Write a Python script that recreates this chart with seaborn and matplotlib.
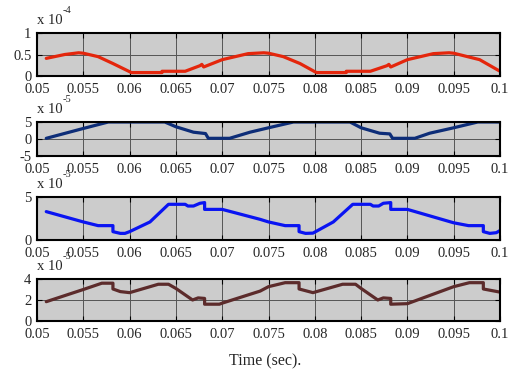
import matplotlib
matplotlib.use("Agg")
import matplotlib.pyplot as plt
import seaborn as sns

sns.set_theme(style="white")
plt.rcParams["font.family"] = ["Liberation Serif", "DejaVu Serif"]

# time grid and tick labels
x_ticks = [0.05, 0.055, 0.06, 0.065, 0.07, 0.075, 0.08, 0.085, 0.09, 0.095, 0.1]
x_tick_labels = ["0.05", "0.055", "0.06", "0.065", "0.07", "0.075",
                 "0.08", "0.085", "0.09", "0.095", "0.1"]

# trace 1 (x 10^-4)
t1 = [0.0510, 0.0530, 0.0545, 0.0550, 0.0566, 0.0582, 0.0600, 0.0602, 0.0635, 0.0635,
      0.0660, 0.0676, 0.0678, 0.0680, 0.0700, 0.0728, 0.0745, 0.0750, 0.0766, 0.0784,
      0.0800, 0.0802, 0.0834, 0.0834, 0.0860, 0.0878, 0.0880, 0.0882, 0.0900, 0.0928,
      0.0945, 0.0950, 0.0978, 0.1000]
v1 = [0.41, 0.50, 0.54, 0.53, 0.45, 0.29, 0.10, 0.08, 0.08, 0.11,
      0.11, 0.24, 0.27, 0.21, 0.38, 0.52, 0.54, 0.53, 0.45, 0.29,
      0.10, 0.08, 0.08, 0.11, 0.11, 0.24, 0.27, 0.21, 0.38, 0.52,
      0.54, 0.53, 0.38, 0.11]

# trace 2 (x 10^-5)
t2 = [0.0510, 0.0550, 0.0577, 0.0638, 0.0650, 0.0669, 0.0682, 0.0685, 0.0708, 0.0730,
      0.0750, 0.0777, 0.0838, 0.0850, 0.0870, 0.0881, 0.0884, 0.0908, 0.0924, 0.0950,
      0.0976, 0.1000]
v2 = [0.2, 3.1, 5.0, 5.0, 3.6, 2.0, 1.6, 0.2, 0.2, 2.0,
      3.3, 5.0, 5.0, 3.3, 1.7, 1.5, 0.2, 0.2, 1.7, 3.3,
      5.0, 5.0]

# trace 3 (x 10^-5)
t3 = [0.0510, 0.0550, 0.0566, 0.0582, 0.0582, 0.0590, 0.0595, 0.0600, 0.0622, 0.0642,
      0.0660, 0.0663, 0.0669, 0.0676, 0.0681, 0.0681, 0.0700, 0.0741, 0.0750, 0.0768,
      0.0783, 0.0783, 0.0790, 0.0798, 0.0820, 0.0841, 0.0860, 0.0863, 0.0869, 0.0874,
      0.0882, 0.0882, 0.0900, 0.0950, 0.0966, 0.0982, 0.0982, 0.0989, 0.0996, 0.1000]
v3 = [3.3, 2.1, 1.67, 1.67, 0.97, 0.77, 0.77, 0.97, 2.1, 4.15,
      4.15, 3.95, 3.95, 4.27, 4.35, 3.56, 3.56, 2.4, 2.1, 1.67,
      1.67, 0.97, 0.77, 0.80, 2.1, 4.15, 4.15, 3.95, 3.95, 4.27,
      4.35, 3.56, 3.56, 2.0, 1.67, 1.67, 0.97, 0.77, 0.85, 1.1]

# trace 4 (x 10^-5)
t4 = [0.0510, 0.0550, 0.0570, 0.0582, 0.0582, 0.0590, 0.0600, 0.0631, 0.0642, 0.0650,
      0.0668, 0.0674, 0.0681, 0.0681, 0.0697, 0.0700, 0.0741, 0.0750, 0.0768, 0.0783,
      0.0783, 0.0798, 0.0830, 0.0844, 0.0850, 0.0868, 0.0874, 0.0882, 0.0882, 0.0900,
      0.0950, 0.0967, 0.0982, 0.0982, 0.1000]
v4 = [1.84, 3.0, 3.6, 3.6, 3.05, 2.8, 2.7, 3.5, 3.5, 3.1,
      2.0, 2.2, 2.15, 1.6, 1.6, 1.7, 2.85, 3.27, 3.65, 3.65,
      3.05, 2.7, 3.5, 3.5, 3.1, 2.0, 2.2, 2.15, 1.6, 1.65,
      3.27, 3.65, 3.65, 3.05, 2.75]

traces = [
    (t1, v1, "#e4260c", (0, 1), [0, 0.5, 1], ["0", "0.5", "1"], "-4"),
    (t2, v2, "#0d2d78", (-5, 5), [-5, 0, 5], ["-5", "0", "5"], "-5"),
    (t3, v3, "#0a14f2", (0, 5), [0, 5], ["0", "5"], "-5"),
    (t4, v4, "#5c2b2b", (0, 4), [0, 2, 4], ["0", "2", "4"], "-5"),
]

W, H = 516, 378
fig = plt.figure(figsize=(W / 100, H / 100), dpi=100)
fig.patch.set_facecolor("white")

# pixel boxes (top, bottom) of each panel
boxes = [(33, 76), (122, 156), (197, 240), (279, 321)]
left, right = 37, 500

for (t, v, col, ylim, yt, ytl, expo), (top, bot) in zip(traces, boxes):
    ax = fig.add_axes([left / W, 1 - bot / H, (right - left) / W, (bot - top) / H])
    ax.set_facecolor("#cccccc")
    sns.lineplot(x=t, y=v, ax=ax, color=col, lw=2.3, estimator=None, sort=False)
    ax.set_xlim(0.05, 0.1)
    ax.set_ylim(*ylim)
    ax.set_xticks(x_ticks)
    ax.set_xticklabels(x_tick_labels, fontsize=10.5)
    ax.set_yticks(yt)
    ax.set_yticklabels(ytl, fontsize=10.5)
    ax.grid(True, color="#555555", lw=0.7)
    ax.tick_params(direction="in", length=3.5, width=0.8, color="black",
                   top=True, right=True, bottom=True, left=True, pad=4)
    ax.tick_params(axis="x", pad=5)
    for s in ax.spines.values():
        s.set_visible(True)
        s.set_color("black")
        s.set_linewidth(1.5)
    ax.set_xlabel("")
    ax.set_ylabel("")
    # scale factor label above the panel
    fig.text(left / W, 1 - (top - 9) / H, "x 10", fontsize=10.5, ha="left",
             va="baseline")
    fig.text((left + 26) / W, 1 - (top - 20) / H, expo, fontsize=7.5, ha="left",
             va="baseline")

fig.text(265 / W, 1 - 365 / H, "Time (sec).", fontsize=11.5, ha="center",
         va="baseline")

fig.savefig("out.png", dpi=100)
